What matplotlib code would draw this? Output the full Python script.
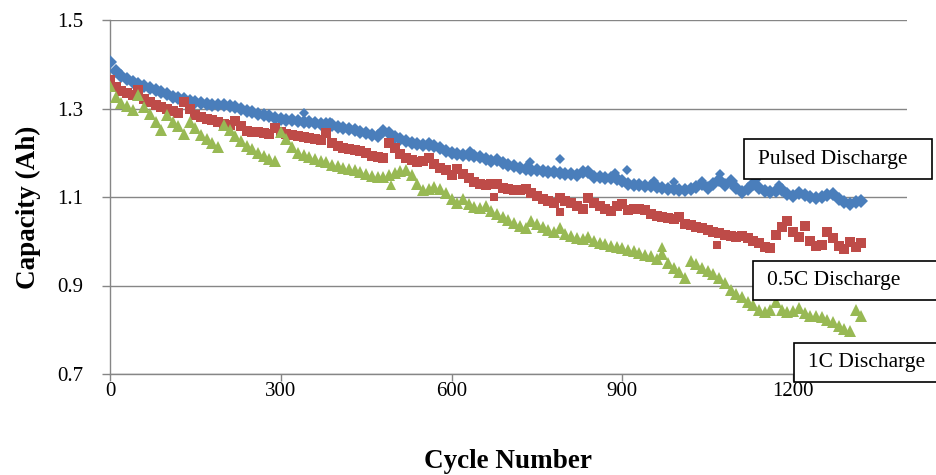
import matplotlib.pyplot as plt
from matplotlib.patches import Rectangle

plt.rcParams['font.family'] = ['Liberation Serif', 'DejaVu Serif']

# capacity read every 10 cycles, 0 .. 1320
cycles = list(range(0, 1330, 10))

pulsed = [
    1.405, 1.385, 1.374, 1.366, 1.360, 1.356, 1.351, 1.346, 1.341, 1.337,
    1.332, 1.327, 1.324, 1.321, 1.318, 1.315, 1.312, 1.311, 1.309, 1.308,
    1.307, 1.305, 1.303, 1.299, 1.295, 1.291, 1.288, 1.285, 1.282, 1.279,
    1.277,
    1.275, 1.273, 1.271, 1.270, 1.270, 1.268, 1.266, 1.264, 1.262, 1.258,
    1.256, 1.254, 1.251, 1.247, 1.244, 1.240, 1.238, 1.250, 1.244, 1.236,
    1.230, 1.226, 1.222, 1.220, 1.218, 1.217, 1.215, 1.210, 1.205, 1.200,
    1.198, 1.196, 1.195, 1.193, 1.190, 1.186, 1.182, 1.183, 1.176, 1.172,
    1.169, 1.166, 1.163, 1.162, 1.160, 1.159, 1.157, 1.157, 1.155, 1.153,
    1.152, 1.150, 1.156, 1.157, 1.146, 1.145, 1.142, 1.142, 1.140, 1.137,
    1.130,
    1.128, 1.127, 1.125, 1.124, 1.122, 1.120, 1.118, 1.117, 1.115, 1.116,
    1.118, 1.122, 1.130, 1.120, 1.130, 1.138, 1.126, 1.136, 1.120, 1.112,
    1.118, 1.130, 1.120, 1.113, 1.112, 1.114, 1.115, 1.106, 1.102,
    1.108, 1.105, 1.100, 1.098, 1.100, 1.104, 1.106, 1.095, 1.088, 1.085,
    1.088, 1.092,
]

half_c = [
    1.365, 1.348, 1.340, 1.335, 1.330, 1.342, 1.322, 1.315, 1.308, 1.303,
    1.300, 1.295, 1.290, 1.314, 1.298, 1.285, 1.280, 1.276, 1.273, 1.270,
    1.266, 1.263, 1.272, 1.260, 1.250, 1.248, 1.246, 1.245, 1.243, 1.256,
    1.248,
    1.242, 1.240, 1.237, 1.236, 1.233, 1.230, 1.228, 1.244, 1.222, 1.215,
    1.210, 1.208, 1.206, 1.204, 1.200, 1.193, 1.190, 1.188, 1.222, 1.210,
    1.198, 1.188, 1.184, 1.180, 1.182, 1.188, 1.175, 1.166, 1.160, 1.150,
    1.163, 1.152, 1.142, 1.135, 1.130, 1.128, 1.130, 1.130, 1.121, 1.118,
    1.116, 1.116, 1.118, 1.108, 1.103, 1.095, 1.090, 1.087, 1.097, 1.092,
    1.087, 1.080, 1.074, 1.097, 1.087, 1.080, 1.074, 1.068, 1.080, 1.084,
    1.070,
    1.072, 1.072, 1.070, 1.062, 1.058, 1.055, 1.053, 1.051, 1.054, 1.040,
    1.036, 1.033, 1.030, 1.025, 1.022, 1.018, 1.014, 1.012, 1.010, 1.012,
    1.008, 1.000, 0.995, 0.987, 0.984, 1.015, 1.033, 1.045, 1.020,
    1.010, 1.035, 1.000, 0.990, 0.992, 1.022, 1.008, 0.990, 0.982, 0.998,
    0.988, 0.995,
]

one_c = [
    1.350, 1.326, 1.312, 1.306, 1.296, 1.330, 1.303, 1.287, 1.270, 1.252,
    1.285, 1.270, 1.260, 1.242, 1.270, 1.255, 1.240, 1.232, 1.222, 1.213,
    1.262, 1.252, 1.238, 1.226, 1.216, 1.208, 1.199, 1.193, 1.187, 1.181,
    1.248,
    1.232, 1.214, 1.200, 1.194, 1.190, 1.186, 1.182, 1.178, 1.172, 1.170,
    1.166, 1.163, 1.160, 1.156, 1.152, 1.147, 1.146, 1.145, 1.150, 1.155,
    1.158, 1.161, 1.150, 1.130, 1.116, 1.118, 1.122, 1.118, 1.110, 1.095,
    1.086, 1.095, 1.085, 1.078, 1.075, 1.080, 1.068, 1.062, 1.055, 1.048,
    1.041, 1.034, 1.030, 1.046, 1.040, 1.032, 1.025, 1.022, 1.030, 1.017,
    1.012, 1.008, 1.006, 1.010, 1.000, 0.995, 0.993, 0.990, 0.988, 0.984,
    0.980,
    0.978, 0.974, 0.970, 0.966, 0.960, 0.972, 0.950, 0.940, 0.930, 0.918,
    0.955, 0.948, 0.940, 0.932, 0.925, 0.918, 0.905, 0.890, 0.880, 0.875,
    0.862, 0.855, 0.845, 0.840, 0.845, 0.862, 0.845, 0.840, 0.842,
    0.850, 0.838, 0.832, 0.830, 0.828, 0.822, 0.818, 0.808, 0.802, 0.798,
    0.845, 0.830,
]

# stray readings that sit off the main trend
pulsed_odd_cycles = [340, 387, 561, 632, 737, 790, 887, 908, 955, 990, 1040, 1072, 1134, 1175]
pulsed_odd = [1.289, 1.270, 1.225, 1.205, 1.178, 1.185, 1.154, 1.161, 1.137, 1.134, 1.137, 1.153, 1.138, 1.127]
half_c_odd_cycles = [675, 790, 1066]
half_c_odd = [1.100, 1.065, 0.991]
one_c_odd_cycles = [494, 969]
one_c_odd = [1.127, 0.987]

blue = '#4A7EBB'
red = '#BE4B48'
green = '#98B954'
grey = '#868686'

fig = plt.figure(figsize=(9.37, 4.75), dpi=100)
ax = fig.add_axes([110 / 937, 1 - 374 / 475, 797 / 937, 354 / 475])

ax.plot(cycles, pulsed, 'D', color=blue, ms=7, mew=0, zorder=3)
ax.plot(pulsed_odd_cycles, pulsed_odd, 'D', color=blue, ms=5.5, mew=0, zorder=3)
ax.plot(cycles, half_c, 's', color=red, ms=6.5, mew=0, zorder=3)
ax.plot(half_c_odd_cycles, half_c_odd, 's', color=red, ms=5.5, mew=0, zorder=3)
ax.plot(cycles, one_c, '^', color=green, ms=8.5, mew=0, zorder=3)
ax.plot(one_c_odd_cycles, one_c_odd, '^', color=green, ms=6.5, mew=0, zorder=3)

ax.set_xlim(0, 1400)
ax.set_ylim(0.7, 1.5)
ax.set_xticks([0, 300, 600, 900, 1200])
ax.set_yticks([0.7, 0.9, 1.1, 1.3, 1.5])
ax.set_yticklabels(['0.7', '0.9', '1.1', '1.3', '1.5'])
ax.grid(axis='y', color=grey, lw=1)
ax.set_axisbelow(True)

for side in ['top', 'right']:
    ax.spines[side].set_visible(False)
for side in ['left', 'bottom']:
    ax.spines[side].set_color(grey)
    ax.spines[side].set_linewidth(1)
ax.tick_params(axis='y', direction='out', length=6, width=1, color=grey,
               labelsize=15, pad=13)
ax.tick_params(axis='x', direction='out', length=5, width=1, color=grey,
               labelsize=15, pad=1)

fig.text(28 / 937, 1 - 207 / 475, 'Capacity (Ah)', rotation=90, fontsize=19.5,
         fontweight='bold', ha='center', va='center')
fig.text(508 / 937, 1 - 461 / 475, 'Cycle Number', fontsize=19.5,
         fontweight='bold', ha='center', va='center')

# series labels in boxed call-outs
boxes = [
    ('Pulsed Discharge', 744, 139, 188, 40, 758, 160),
    ('0.5C Discharge', 753, 261, 200, 39, 767, 281),
    ('1C Discharge', 794, 343, 160, 39, 808, 362),
]
for label, x0, y0, w, h, tx, ty in boxes:
    fig.patches.append(Rectangle((x0 / 937, 1 - (y0 + h) / 475), w / 937, h / 475,
                                 transform=fig.transFigure, facecolor='white',
                                 edgecolor='black', lw=1.2, zorder=5))
    fig.text(tx / 937, 1 - ty / 475, label, fontsize=15.5, ha='left',
             va='center', zorder=6)

fig.savefig('out.png', dpi=100)
